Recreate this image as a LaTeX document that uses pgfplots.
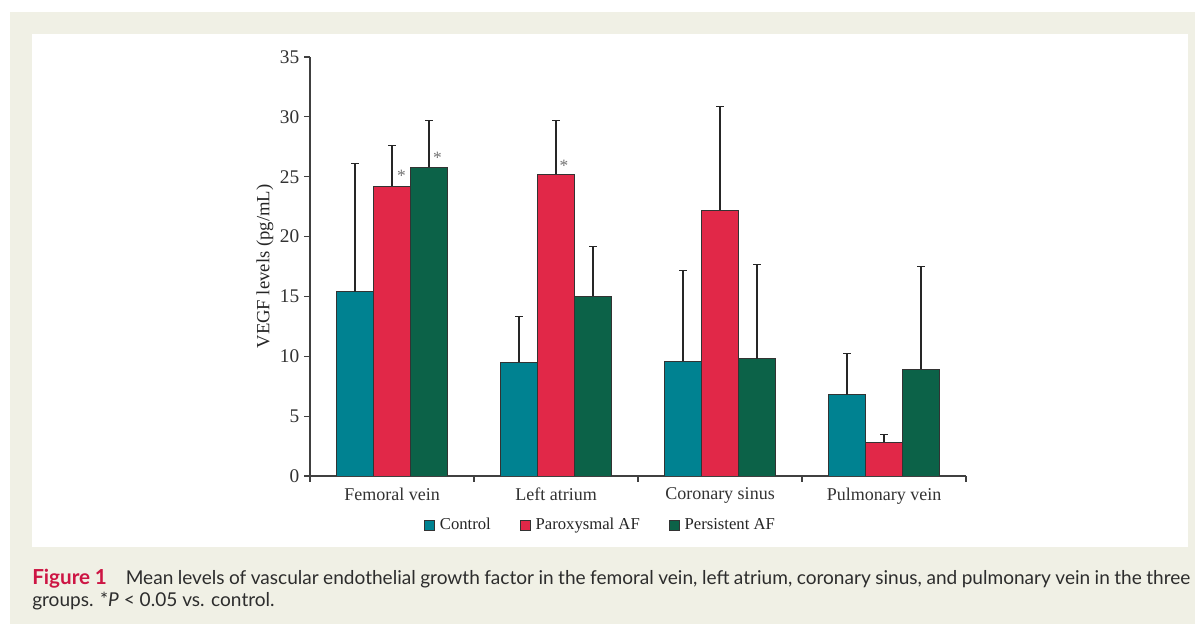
\documentclass[border=0pt]{standalone}
\usepackage{fontspec}
\setmainfont{Liberation Serif}
\newfontfamily\capfont{Lato}
\usepackage{pgfplots}
\pgfplotsset{compat=1.18}
\definecolor{ctrl}{RGB}{0,130,145}
\definecolor{parox}{RGB}{225,40,72}
\definecolor{pers}{RGB}{12,98,72}
\definecolor{beige}{RGB}{240,240,229}
\definecolor{figred}{RGB}{205,22,68}
\definecolor{captxt}{RGB}{45,45,45}
\begin{document}
\begin{tikzpicture}[x=0.75pt,y=0.75pt]
\fill[white] (0,0) rectangle (1195,624);
\fill[beige] (10,0) rectangle (1195,612);
\fill[white] (32,77) rectangle (1188,590);
\begin{axis}[
  at={(232.5pt,111pt)}, anchor=south west,
  scale only axis, width=492pt, height=314.25pt,
  xmin=0, xmax=4, ymin=0, ymax=35,
  axis x line*=bottom, axis y line*=left,
  axis line style={black!75, line width=0.8pt, -},
  ytick={0,5,...,35},
  xtick={0,1,2,3,4}, xticklabels={},
  extra x ticks={0.5,1.5,2.5,3.5},
  extra x tick labels={Femoral vein, Left atrium, Coronary sinus, Pulmonary vein},
  extra x tick style={major tick length=0pt, xticklabel style={yshift=-5.5pt, font=\fontsize{13.5}{16}\selectfont}},
  tick align=outside, major tick length=4.5pt,
  tick style={black!75, line width=0.8pt},
  /pgf/number format/assume math mode=true,
  ticklabel style={font=\fontsize{14.5}{16}\selectfont, text=black!80},
  ylabel={VEGF levels (pg/mL)},
  ylabel style={font=\fontsize{14}{16}\selectfont, text=black!85, at={(axis description cs:-0.0686,0.5)}, anchor=center},
  ybar=0pt, bar width=27.75pt,
  every axis plot/.append style={draw=black!80, line width=0.7pt},
  error bars/y dir=plus, error bars/y explicit,
  error bars/error bar style={black!85, line width=0.8pt},
  error bars/error mark options={black!85, line width=0.8pt, mark size=3pt, rotate=90},
  legend style={at={(axis description cs:0.4436,-0.117)}, anchor=center, draw=none, fill=none,
    font=\fontsize{12.5}{15}\selectfont, text=black!85, legend columns=3,
    /tikz/every even column/.append style={column sep=20pt},
    /tikz/every odd column/.append style={column sep=1.5pt}},
  legend image code/.code={\draw[#1, draw=black!80, line width=0.6pt] (0pt,-3.75pt) rectangle (7.5pt,3.75pt);},
]
\addplot[fill=ctrl] coordinates {(0.5,15.4) +- (0,10.7) (1.5,9.5) +- (0,3.8) (2.5,9.6) +- (0,7.6) (3.5,6.8) +- (0,3.4)};
\addplot[fill=parox] coordinates {(0.5,24.2) +- (0,3.4) (1.5,25.2) +- (0,4.5) (2.5,22.2) +- (0,8.7) (3.5,2.8) +- (0,0.7)};
\addplot[fill=pers] coordinates {(0.5,25.8) +- (0,3.9) (1.5,15.0) +- (0,4.2) (2.5,9.8) +- (0,7.9) (3.5,8.9) +- (0,8.6)};
\legend{Control, Paroxysmal AF, Persistent AF}
\node[text=black!55, font=\fontsize{13}{15}\selectfont] at (axis cs:0.558,25.1) {*};
\node[text=black!55, font=\fontsize{13}{15}\selectfont] at (axis cs:0.777,26.6) {*};
\node[text=black!55, font=\fontsize{13}{15}\selectfont] at (axis cs:1.549,25.9) {*};
\end{axis}
\node[anchor=base west, inner sep=0pt, text=captxt, font=\capfont\fontsize{14.3}{16}\selectfont] at (32,39)
  {\makebox[868.5pt][s]{\textcolor{figred}{\bfseries\fontsize{15.5}{16}\selectfont Figure 1}\quad Mean levels of vascular endothelial growth factor in the femoral vein, left atrium, coronary sinus, and pulmonary vein in the three}};
\node[anchor=base west, inner sep=0pt, text=captxt, font=\capfont\fontsize{14.3}{16}\selectfont] at (32,17)
  {groups. *\textit{P} < 0.05 vs. control.};
\end{tikzpicture}
\end{document}
